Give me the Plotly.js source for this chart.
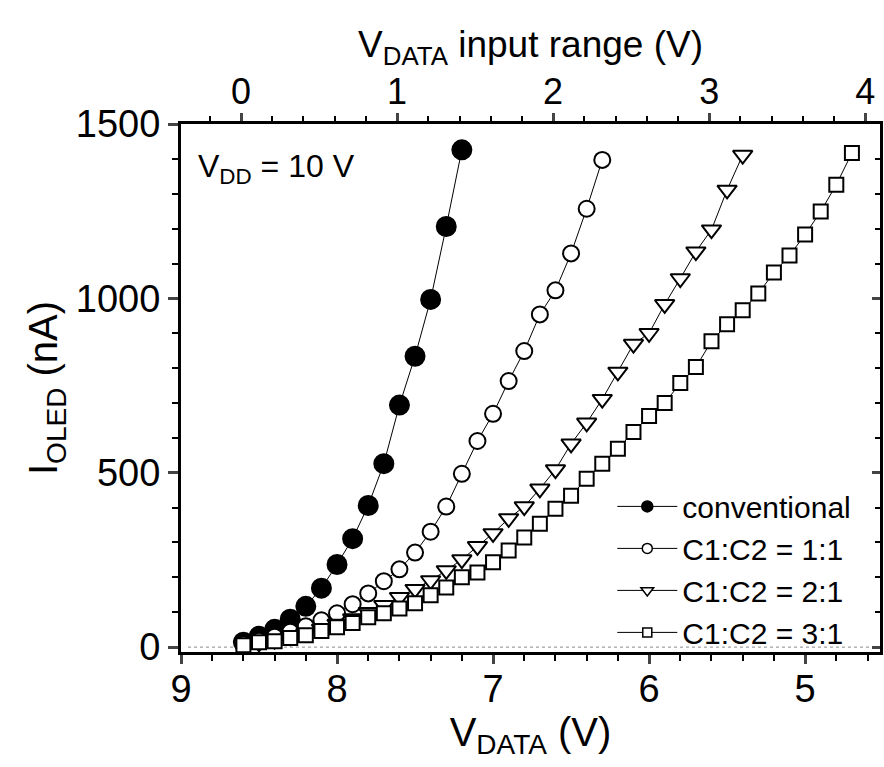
<!DOCTYPE html>
<html>
<head>
<meta charset="utf-8">
<script src="https://cdn.plot.ly/plotly-3.0.1.min.js"></script>
<style>html,body{margin:0;padding:0;background:#fff;}#chart{width:884px;height:767px;}</style>
</head>
<body>
<div id="chart"></div>
<script>
// V_DATA (V) values and OLED currents (nA)
const vConv = [8.6,8.5,8.4,8.3,8.2,8.1,8.0,7.9,7.8,7.7,7.6,7.5,7.4,7.3,7.2];
const iConv = [14,31,51,80,117,169,237,311,406,526,694,834,997,1206,1426];

const v11 = [8.6,8.5,8.4,8.3,8.2,8.1,8.0,7.9,7.8,7.7,7.6,7.5,7.4,7.3,7.2,7.1,7.0,6.9,6.8,6.7,6.6,6.5,6.4,6.3];
const i11 = [8,18,30,44,60,77,97,123,154,189,223,271,331,403,497,591,669,763,849,954,1023,1129,1257,1397];

const v21 = [8.6,8.5,8.4,8.3,8.2,8.1,8.0,7.9,7.8,7.7,7.6,7.5,7.4,7.3,7.2,7.1,7.0,6.9,6.8,6.7,6.6,6.5,6.4,6.3,6.2,6.1,6.0,5.9,5.8,5.7,5.6,5.5,5.4];
const i21 = [6,12,20,30,40,52,66,82,100,120,143,166,191,220,251,289,326,369,403,454,509,583,643,711,789,869,900,983,1057,1134,1197,1311,1411];

const v31 = [8.6,8.5,8.4,8.3,8.2,8.1,8.0,7.9,7.8,7.7,7.6,7.5,7.4,7.3,7.2,7.1,7.0,6.9,6.8,6.7,6.6,6.5,6.4,6.3,6.2,6.1,6.0,5.9,5.8,5.7,5.6,5.5,5.4,5.3,5.2,5.1,5.0,4.9,4.8,4.7];
const i31 = [5,14,17,26,34,46,57,69,86,97,111,126,149,171,200,214,243,277,314,354,397,434,483,526,569,617,663,700,757,803,877,926,966,1014,1074,1123,1183,1249,1326,1417];

const seriesNames = ['conventional','C1:C2 = 1:1','C1:C2 = 2:1','C1:C2 = 3:1'];
const topTicks = [0,1,2,3,4];
const vOffset = 8.615; // input range = vOffset - V_DATA

const FONT = 'Arial, "Liberation Sans", sans-serif';
const lineStyle = {color:'#000', width:1};

function mk(x, y, name, symbol, size, fill){
  return {x:x, y:y, type:'scatter', mode:'lines+markers', name:name, showlegend:false,
    line:lineStyle,
    marker:{symbol:symbol, size:size, color:fill, line:{color:'#000', width:2}}};
}
function lg(name, symbol, size, fill){
  return {x:[null], y:[null], type:'scatter', mode:'lines+markers', name:name, showlegend:true,
    line:lineStyle,
    marker:{symbol:symbol, size:size, color:fill, line:{color:'#000', width:1.5}}};
}

const data = [
  mk(vConv, iConv, seriesNames[0], 'circle', 19, '#000'),
  mk(v11, i11, seriesNames[1], 'circle', 16, '#fff'),
  mk(v21, i21, seriesNames[2], 'triangle-down', 17, '#fff'),
  mk(v31, i31, seriesNames[3], 'square', 14, '#fff'),
  lg(seriesNames[0], 'circle', 11, '#000'),
  lg(seriesNames[1], 'circle', 10, '#fff'),
  lg(seriesNames[2], 'triangle-down', 11, '#fff'),
  lg(seriesNames[3], 'square', 9, '#fff'),
  {x:[null], y:[null], xaxis:'x2', yaxis:'y2', showlegend:false, type:'scatter', mode:'markers'}
];

const xr = [9, 4.52];
const layout = {
  width:884, height:767,
  margin:{l:181, r:4, t:124, b:115},
  paper_bgcolor:'#fff', plot_bgcolor:'#fff',
  font:{family:FONT, color:'#000', size:30},
  showlegend:true,
  xaxis:{
    range:xr, dtick:1, tick0:0, ticks:'outside', ticklen:9, tickwidth:3,
    showline:true, linewidth:3, linecolor:'#000', showgrid:false, zeroline:false,
    minor:{dtick:0.2, ticks:'outside', ticklen:6, tickwidth:2, tickcolor:'#000', showgrid:false},
    tickfont:{size:38, family:FONT}, ticklabelstandoff:-8,
    title:{text:'V<sub>DATA</sub> (V)', font:{size:40, family:FONT}, standoff:0}
  },
  xaxis2:{
    overlaying:'x', side:'top', anchor:'y',
    range:[vOffset - xr[0], vOffset - xr[1]], tickvals:topTicks, ticks:'outside', ticklen:8, tickwidth:3,
    showline:true, linewidth:3, linecolor:'#000', showgrid:false, zeroline:false,
    minor:{dtick:0.2, ticks:'outside', ticklen:5, tickwidth:2, tickcolor:'#000', showgrid:false},
    tickfont:{size:36, family:FONT}, ticklabelstandoff:-5,
    title:{text:'V<sub>DATA</sub> input range (V)', font:{size:37, family:FONT}, standoff:2}
  },
  yaxis:{
    range:[-14, 1500], dtick:500, tick0:0, ticks:'outside', ticklen:10, tickwidth:3,
    showline:true, linewidth:3, linecolor:'#000', showgrid:false, zeroline:false,
    minor:{dtick:100, ticks:'outside', ticklen:6, tickwidth:2, tickcolor:'#000', showgrid:false},
    tickfont:{size:38, family:FONT},
    title:{text:'I<sub>OLED</sub> (nA)', font:{size:40, family:FONT}, standoff:6}
  },
  yaxis2:{
    overlaying:'y', side:'right', anchor:'x', range:[-14, 1500], dtick:500, tick0:0,
    ticks:'inside', ticklen:8, tickwidth:3, showticklabels:false,
    showline:true, linewidth:3, linecolor:'#000', showgrid:false, zeroline:false,
    minor:{dtick:100, ticks:'inside', ticklen:5, tickwidth:2, tickcolor:'#000', showgrid:false}
  },
  legend:{x:0.617, y:0.325, xanchor:'left', yanchor:'top', bgcolor:'rgba(0,0,0,0)',
    font:{size:30, family:FONT}, itemwidth:60, tracegroupgap:0},
  annotations:[{xref:'paper', yref:'paper', x:0.022, y:0.915, xanchor:'left', yanchor:'middle',
    showarrow:false, text:'V<sub>DD</sub> = 10 V', font:{size:32, family:FONT}}],
  shapes:[{type:'line', xref:'paper', yref:'y', x0:0.01, x1:0.99, y0:0, y1:0,
    line:{color:'#888', width:1, dash:'dot'}, layer:'below'}]
};

Plotly.newPlot('chart', data, layout, {displayModeBar:false, staticPlot:true});
</script>
</body>
</html>
